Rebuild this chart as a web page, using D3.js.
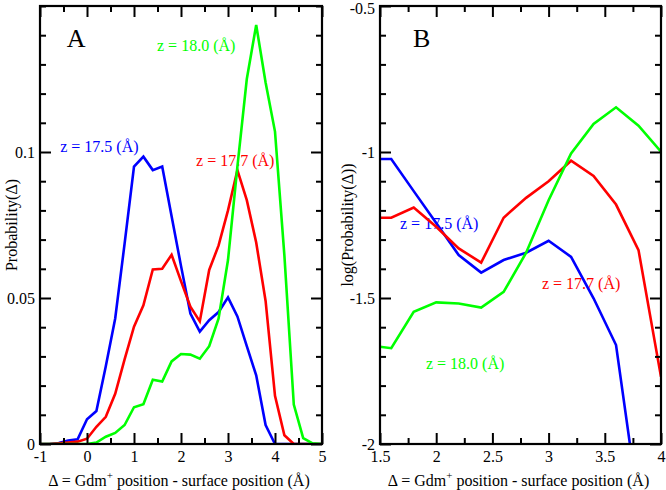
<!DOCTYPE html>
<html>
<head>
<meta charset="utf-8">
<script src="https://cdn.jsdelivr.net/npm/d3@7"></script>
<style>
  html, body { margin: 0; padding: 0; background: #fff; }
  svg { display: block; }
  text { font-family: "Liberation Serif", "DejaVu Serif", serif; }
</style>
</head>
<body>
<svg id="chart" width="666" height="490"></svg>
<script>
// ---------- Panel A data ----------
const xA = [-1,-0.8,-0.6,-0.4,-0.2,0,0.2,0.4,0.6,0.8,1,1.2,1.4,1.6,1.8,2,2.2,2.4,2.6,2.8,3,3.2,3.4,3.6,3.8,4,4.2,4.4,4.6,4.8,5];
const blueA  = [0,0,0.0003,0.0012,0.0016,0.0085,0.0113,0.0266,0.043,0.0686,0.0950,0.0984,0.0938,0.0950,0.078,0.061,0.0447,0.0385,0.0424,0.0452,0.0502,0.0437,0.0335,0.0235,0.0065,0,0,0,0,0,0];
const redA   = [0,0,0.0002,0.0005,0.0008,0.0018,0.0059,0.0093,0.0172,0.029,0.0402,0.0475,0.0598,0.0600,0.0648,0.0558,0.0470,0.0420,0.0596,0.0680,0.0800,0.0938,0.0835,0.0690,0.0490,0.0165,0.003,0,0,0,0];
const greenA = [0,0,0,0,0,0,0.0005,0.0025,0.0038,0.0065,0.0126,0.0136,0.0220,0.0214,0.0283,0.0308,0.0306,0.0292,0.0335,0.0430,0.0630,0.0950,0.1250,0.1435,0.1238,0.1070,0.0645,0.0135,0.0020,0.0002,0];

// ---------- Panel B data ----------
const xB = [1.5,1.6,1.8,2.0,2.2,2.4,2.6,2.8,3.0,3.2,3.4,3.6,3.8,4.0];
const blueB  = [-1.024,-1.024,-1.134,-1.243,-1.353,-1.413,-1.370,-1.345,-1.304,-1.359,-1.501,-1.661,-2.21,null];
const redB   = [-1.225,-1.225,-1.190,-1.256,-1.330,-1.379,-1.225,-1.157,-1.100,-1.030,-1.082,-1.180,-1.336,-1.770];
const greenB = [-1.667,-1.672,-1.547,-1.515,-1.519,-1.533,-1.479,-1.345,-1.165,-1.005,-0.904,-0.847,-0.910,-0.999];

// ---------- ticks ----------
const xTicksA = [-1,0,1,2,3,4,5];
const xMinorA = [-0.5,0.5,1.5,2.5,3.5,4.5];
const yTicksA = [0,0.05,0.1];
const yTopA = [0.15];
const yMinorA = [0.01,0.02,0.03,0.04,0.06,0.07,0.08,0.09,0.11,0.12,0.13,0.14];
const xTicksB = [1.5,2,2.5,3,3.5,4];
const xMinorB = [1.75,2.25,2.75,3.25,3.75];
const yTicksB = [-2,-1.5,-1,-0.5];
const yMinorB = [-1.9,-1.8,-1.7,-1.6,-1.4,-1.3,-1.2,-1.1,-0.9,-0.8,-0.7,-0.6];

// ---------- labels ----------
const seriesNames = ["z = 17.5 (Å)", "z = 17.7 (Å)", "z = 18.0 (Å)"];
const colors = ["#0000ff", "#ff0000", "#00ff00"];
const labelPosA = [[-0.57, 0.1], [2.32, 0.0952], [1.49, 0.1345]];
const labelPosB = [[1.678, -1.262], [2.941, -1.468], [1.909, -1.742]];
const panelLetters = ["A", "B"];
const letterPosA = [-0.43, 0.136];
const letterPosB = [1.794, -0.640];
const yTitles = ["Probability(Δ)", "log(Probability(Δ))"];

const svg = d3.select("#chart");
const plotTop = 6, plotBottom = 444;
const majorLen = 11, minorLen = 6;

const panels = [
  { left: 40, right: 322, xDom: [-1, 5], yDom: [0, 0.15], x: xA, series: [blueA, redA, greenA],
    xt: xTicksA, xm: xMinorA, yt: yTicksA, ym: yMinorA.concat(yTopA), labels: labelPosA, letter: letterPosA, letterText: panelLetters[0], ytitle: yTitles[0], ytitleX: 11 },
  { left: 380, right: 661, xDom: [1.5, 4], yDom: [-2, -0.5], x: xB, series: [blueB, redB, greenB],
    xt: xTicksB, xm: xMinorB, yt: yTicksB, ym: yMinorB, labels: labelPosB, letter: letterPosB, letterText: panelLetters[1], ytitle: yTitles[1], ytitleX: 347 }
];

panels.forEach((p) => {
  const sx = d3.scaleLinear().domain(p.xDom).range([p.left, p.right]);
  const sy = d3.scaleLinear().domain(p.yDom).range([plotBottom, plotTop]);
  p.sx = sx; p.sy = sy;
  const g = svg.append("g");

  // nested svg clips the data lines to the plot box (no clipPath needed)
  const w = p.right - p.left, h = plotBottom - plotTop;
  const inner = svg.append("svg").attr("x", p.left).attr("y", plotTop)
    .attr("width", w).attr("height", h).attr("overflow", "hidden");
  const ix = sx.copy().range([0, w]);
  const iy = sy.copy().range([h, 0]);
  const lineGen = d3.line().defined(d => d[1] !== null).x(d => ix(d[0])).y(d => iy(d[1]));
  p.series.forEach((s, i) => {
    inner.append("path")
      .datum(p.x.map((xv, k) => [xv, s[k]]))
      .attr("fill", "none")
      .attr("stroke", colors[i])
      .attr("stroke-width", 2.6)
      .attr("d", lineGen);
  });

  p.labels.forEach((pos, i) => {
    g.append("text").attr("x", sx(pos[0])).attr("y", sy(pos[1]))
      .attr("fill", colors[i]).style("font-size", "16px").text(seriesNames[i]);
  });
  g.append("text").attr("x", sx(p.letter[0])).attr("y", sy(p.letter[1]))
    .style("font-size", "26px").attr("fill", "#000").text(p.letterText);

  const xt = g.append("text").attr("x", (p.left + p.right) / 2 - 2).attr("y", 486)
    .attr("text-anchor", "middle").style("font-size", "16px").attr("fill", "#000");
  xt.append("tspan").text("Δ  = Gdm");
  xt.append("tspan").attr("dy", -7).style("font-size", "11px").text("+");
  xt.append("tspan").attr("dy", 7).text(" position - surface position (Å)");

  g.append("text")
    .attr("transform", "translate(" + p.ytitleX + "," + ((plotTop + plotBottom) / 2) + ") rotate(-90)")
    .attr("text-anchor", "middle").attr("dy", "0.35em")
    .style("font-size", "16px").attr("fill", "#000").text(p.ytitle);
});

function makeAxis(axisFn, scale, vals, len, labels, tx, ty, attr, inward) {
  const a = svg.append("g").attr("transform", "translate(" + tx + "," + ty + ")");
  a.call(axisFn(scale).tickValues(vals).tickSize(len).tickFormat(labels ? (d => String(d)) : (() => "")));
  a.select(".domain").remove();
  a.selectAll(".tick line").attr(attr, inward).style("stroke", "#000").style("stroke-width", "2px");
  a.selectAll(".tick text").attr("fill", "#000").style("font-size", "16px");
  return a;
}

panels.forEach(p => {
  const b1 = makeAxis(d3.axisBottom, p.sx, p.xt, majorLen, true, 0, plotBottom, "y2", -majorLen);
  b1.selectAll(".tick text").attr("y", 7).attr("dy", "0.71em");
  makeAxis(d3.axisBottom, p.sx, p.xm, minorLen, false, 0, plotBottom, "y2", -minorLen);
  makeAxis(d3.axisTop, p.sx, p.xt, majorLen, false, 0, plotTop, "y2", majorLen);
  makeAxis(d3.axisTop, p.sx, p.xm, minorLen, false, 0, plotTop, "y2", minorLen);
  const l1 = makeAxis(d3.axisLeft, p.sy, p.yt, majorLen, true, p.left, 0, "x2", majorLen);
  l1.selectAll(".tick text").attr("x", -5).attr("y", d => (p.sy(d) - plotTop < 4 ? 2 : 0));
  makeAxis(d3.axisLeft, p.sy, p.ym, minorLen, false, p.left, 0, "x2", minorLen);
  makeAxis(d3.axisRight, p.sy, p.yt, majorLen, false, p.right, 0, "x2", -majorLen);
  makeAxis(d3.axisRight, p.sy, p.ym, minorLen, false, p.right, 0, "x2", -minorLen);

  svg.append("rect").attr("x", p.left).attr("y", plotTop)
    .attr("width", p.right - p.left).attr("height", plotBottom - plotTop)
    .attr("fill", "none").attr("stroke", "#000").attr("stroke-width", 2.2);
});
</script>
</body>
</html>
